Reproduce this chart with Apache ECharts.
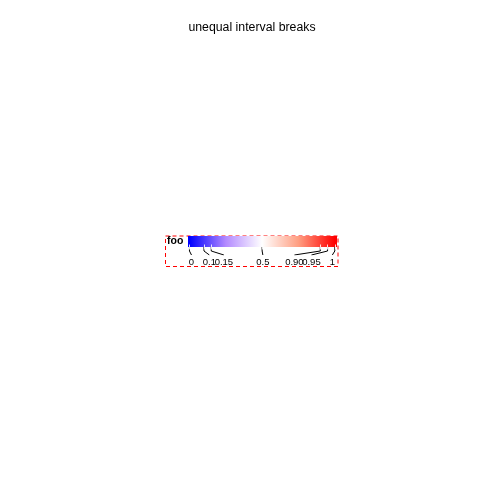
<!DOCTYPE html>
<html>
<head>
<meta charset="utf-8">
<script src="https://cdn.jsdelivr.net/npm/echarts@6/dist/echarts.min.js"></script>
<style>
  html, body { margin: 0; padding: 0; background: #fff; }
  #main { width: 504px; height: 504px; }
</style>
</head>
<body>
<div id="main"></div>
<script>
// legend breaks and where their labels ended up (in scale units)
var breaks = [0, 0.1, 0.15, 0.5, 0.9, 0.95, 1];
var breakLabels = ['0', '0.1', '0.15', '0.5', '0.90', '0.95', '1'];
var labelAt = [0.014, 0.137, 0.237, 0.505, 0.722, 0.839, 0.983];
// fill scale: low -> mid -> high
var scaleStops = [0, 0.25, 0.5, 0.75, 1];
var scaleColors = ['#0000ff', '#b38aff', '#ffffff', '#ff9e81', '#ff0000'];

var chart = echarts.init(document.getElementById('main'), null, { renderer: 'canvas' });

var font = 'Liberation Sans, Arial, sans-serif';

// leader lines: from the bar tick down to the label
var leaderSeries = breaks.map(function (b, i) {
  return {
    type: 'line',
    xAxisIndex: 1,
    yAxisIndex: 1,
    symbol: 'circle',
    symbolSize: 0.01,
    showSymbol: true,
    showAllSymbol: true,
    silent: true,
    animation: false,
    itemStyle: { color: '#000' },
    lineStyle: { color: '#000', width: 1 },
    data: [
      [b, 1],
      [b, 0.5],
      {
        value: [labelAt[i], 0],
        label: {
          show: true,
          position: 'bottom',
          distance: 2,
          formatter: breakLabels[i],
          fontSize: 9.5,
          fontFamily: font,
          color: '#000'
        }
      }
    ]
  };
});

var option = {
  backgroundColor: '#fff',
  animation: false,
  title: [
    {
      text: 'unequal interval breaks',
      left: 'center',
      top: 22,
      padding: 0,
      textStyle: { fontSize: 12.3, fontWeight: 'normal', color: '#000', fontFamily: font }
    },
    {
      text: 'foo',
      left: 167,
      top: 236,
      padding: 0,
      textStyle: { fontSize: 10.5, fontWeight: 'bold', color: '#000', fontFamily: font }
    }
  ],
  grid: [
    { left: 188, top: 236, width: 149, height: 11 },
    { left: 188, top: 247, width: 149, height: 8 },
    {
      left: 165.5, top: 236, width: 172.5, height: 30.5,
      show: true, backgroundColor: 'transparent',
      borderColor: '#ff0000', borderWidth: 1, borderType: [4, 3]
    }
  ],
  xAxis: [
    {
      gridIndex: 0, type: 'value', min: -0.01, max: 1.015, position: 'top', z: 5,
      axisLine: { show: false }, axisLabel: { show: false }, splitLine: { show: false },
      axisTick: { show: true, inside: true, length: 2.5, customValues: breaks,
        lineStyle: { color: 'rgba(255,255,255,0.85)', width: 1 } }
    },
    {
      gridIndex: 1, type: 'value', min: -0.01, max: 1.015,
      show: false
    },
    {
      gridIndex: 2, type: 'value', show: false
    },
    {
      gridIndex: 0, type: 'value', min: -0.01, max: 1.015, position: 'bottom', z: 5,
      axisLine: { show: false }, axisLabel: { show: false }, splitLine: { show: false },
      axisTick: { show: true, inside: true, length: 2.5, customValues: breaks,
        lineStyle: { color: 'rgba(255,255,255,0.85)', width: 1 } }
    }
  ],
  yAxis: [
    { gridIndex: 0, type: 'value', min: 0, max: 1, show: false },
    { gridIndex: 1, type: 'value', min: 0, max: 1, show: false },
    { gridIndex: 2, type: 'value', show: false }
  ],
  series: [
    {
      // colour bar
      type: 'custom',
      xAxisIndex: 0,
      yAxisIndex: 0,
      silent: true,
      data: [[0, 1]],
      renderItem: function (params, api) {
        var rect = params.coordSys;
        var w = rect.width;
        var stops = scaleStops.map(function (s, i) {
          var px = api.coord([s, 0])[0];
          return { offset: (px - rect.x) / w, color: scaleColors[i] };
        });
        // hold end colours out to the bar edges
        stops.unshift({ offset: 0, color: scaleColors[0] });
        stops.push({ offset: 1, color: scaleColors[scaleColors.length - 1] });
        return {
          type: 'rect',
          shape: { x: rect.x, y: rect.y, width: rect.width, height: rect.height },
          style: {
            fill: new echarts.graphic.LinearGradient(0, 0, 1, 0, stops)
          }
        };
      }
    }
  ].concat(leaderSeries)
};

chart.setOption(option);
</script>
</body>
</html>
